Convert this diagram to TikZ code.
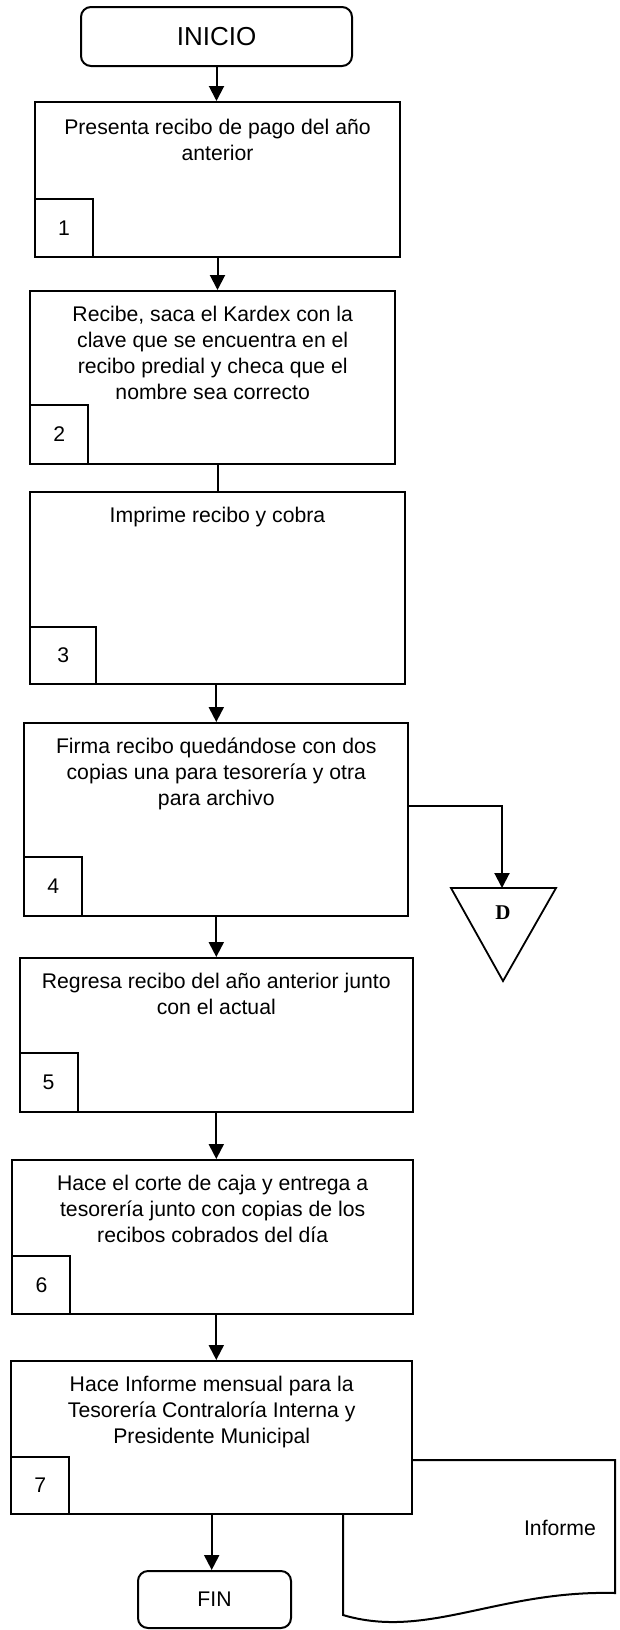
\documentclass[tikz,border=0pt]{standalone}
\usepackage{fontspec}
\setmainfont{Liberation Sans}
\newfontfamily\dfont{Liberation Serif}
\usetikzlibrary{positioning,arrows.meta}
\newcommand{\bodyfont}{\fontsize{21.2}{26}\selectfont}
\tikzset{
  stepbox/.style={draw, line width=2pt, fill=white, inner sep=0pt},
  numbox/.style={draw, line width=2pt, fill=white, inner sep=0pt, anchor=south west,
    minimum width=58, minimum height=58, font=\bodyfont},
  steptext/.style={inner sep=0pt, align=center, font=\bodyfont},
  endbox/.style={draw, line width=2pt, rounded corners=10pt, fill=white, inner sep=0pt},
  flow/.style={line width=2pt, -{Triangle[length=15pt,width=15pt]}},
}
\begin{document}
\begin{tikzpicture}[x=1pt,y=-1pt]
	\useasboundingbox (0,0) rectangle (620,1630);
	% inicio y pasos
	\node[endbox, minimum width=271, minimum height=59, font=\fontsize{26}{30}\selectfont] (start) at (216.5,36.5) {INICIO};
	\node[stepbox, minimum width=365, minimum height=155] (s1) at (217.5,179.5) {};
	\node[stepbox, minimum width=365, minimum height=173] (s2) at (212.7,377.5) {};
	\node[stepbox, minimum width=374.5, minimum height=192] (s3) at (217.5,588) {};
	\node[stepbox, minimum width=384, minimum height=193] (s4) at (216.3,819.5) {};
	\node[stepbox, minimum width=393.4, minimum height=154] (s5) at (216.3,1035) {};
	\node[stepbox, minimum width=400.5, minimum height=154] (s6) at (212.7,1237) {};
	% documento detras del paso 7
	\draw[line width=2pt, fill=white] (343,1460) -- (615,1460) -- (615,1593)
		.. controls (498,1590) and (427,1640) .. (343,1615) -- cycle;
	\node[steptext] (informe) at (560,1528) {Informe};
	\node[stepbox, minimum width=400.7, minimum height=153] (s7) at (211.7,1437.5) {};
	\node[endbox, minimum width=153, minimum height=57, font=\bodyfont] (fin) at (214.5,1599.5) {FIN};
	% textos
	\node[steptext, below=18pt of s1.north] (t1) {Presenta recibo de pago del año\\anterior};
	\node[steptext, below=16pt of s2.north] (t2) {Recibe, saca el Kardex con la\\clave que se encuentra en el\\recibo predial y checa que el\\nombre sea correcto};
	\node[steptext, below=16pt of s3.north] (t3) {Imprime recibo y cobra};
	\node[steptext, below=16pt of s4.north] (t4) {Firma recibo quedándose con dos\\copias una para tesorería y otra\\para archivo};
	\node[steptext, below=16pt of s5.north] (t5) {Regresa recibo del año anterior junto\\con el actual};
	\node[steptext, below=16pt of s6.north] (t6) {Hace el corte de caja y entrega a\\tesorería junto con copias de los\\recibos cobrados del día};
	\node[steptext, below=16pt of s7.north] (t7) {Hace Informe mensual para la\\Tesorería Contraloría Interna y\\Presidente Municipal};
	% numeros
	\node[numbox] (n1) at (s1.south west) {1};
	\node[numbox, minimum height=59] (n2) at (s2.south west) {2};
	\node[numbox, minimum width=66, minimum height=57] (n3) at (s3.south west) {3};
	\node[numbox, minimum height=59] (n4) at (s4.south west) {4};
	\node[numbox, minimum height=59] (n5) at (s5.south west) {5};
	\node[numbox] (n6) at (s6.south west) {6};
	\node[numbox, minimum height=57] (n7) at (s7.south west) {7};
	% archivo D
	\coordinate (dl) at (451,888);
	\coordinate (dr) at (556,888);
	\coordinate (dtip) at (503,981);
	\coordinate (dtop) at (502,888);
	\draw[line width=1.8pt] (dl) -- (dr) -- (dtip) -- cycle;
	\node[font=\dfont\bfseries\fontsize{21}{24}\selectfont] (dname) at (503,913) {D};
	% conectores
	\draw[flow] (start) -- (start |- s1.north);
	\draw[flow] (s1.south) -- (s1.south |- s2.north);
	\draw[line width=2pt] (s2.south -| s3.north) -- (s3.north);
	\draw[flow] (s4.north |- s3.south) -- (s4.north);
	\draw[flow] (s4.south) -- (s5.north);
	\draw[flow] (s5.south) -- (s5.south |- s6.north);
	\draw[flow] (s5.south |- s6.south) -- (s5.south |- s7.north);
	\draw[flow] (s7.south) -- (s7.south |- fin.north);
	\draw[flow] ([yshift=13.5pt]s4.east) -| (dtop);
\end{tikzpicture}
\end{document}
